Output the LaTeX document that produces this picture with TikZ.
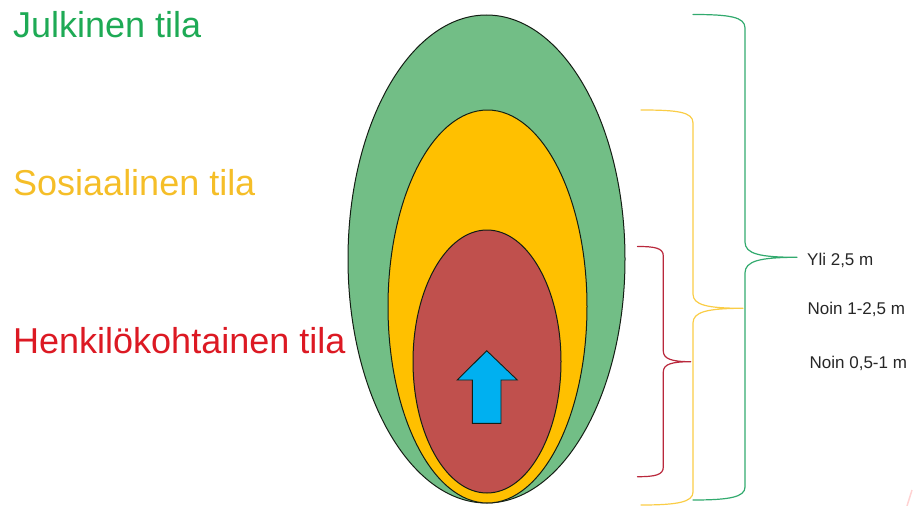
\documentclass[tikz,border=0pt]{standalone}
\usepackage{fontspec}
\setmainfont{Liberation Sans}
\usetikzlibrary{shapes.geometric}
\definecolor{gfill}{RGB}{114,190,134}
\definecolor{yfill}{RGB}{255,192,0}
\definecolor{rfill}{RGB}{192,80,77}
\definecolor{bfill}{RGB}{0,176,240}
\definecolor{gtext}{RGB}{30,170,85}
\definecolor{ytext}{RGB}{245,190,40}
\definecolor{rtext}{RGB}{220,25,35}
\definecolor{gbrace}{RGB}{50,170,110}
\definecolor{ybrace}{RGB}{250,205,70}
\definecolor{rbrace}{RGB}{185,40,60}
\definecolor{outl}{RGB}{20,30,20}
\tikzset{
  zone/.style={ellipse, draw=outl, line width=1pt, inner sep=0pt},
  biglabel/.style={anchor=base west, inner sep=0pt, font=\fontsize{36}{40}\selectfont},
  smalllabel/.style={anchor=base west, inner sep=0pt, text=black!85, font=\fontsize{17}{20}\selectfont},
  bracepath/.style={line width=1.2pt, line cap=round, line join=round}
}
\begin{document}
\begin{tikzpicture}[x=1pt,y=-1pt]
\useasboundingbox (0,0) rectangle (914,506);
% zones
\node[zone, fill=gfill, minimum width=277pt, minimum height=488pt] (pub) at (486.5,259) {};
\node[zone, fill=yfill, minimum width=199pt, minimum height=393pt] (soc) at (487.5,306.5) {};
\node[zone, fill=rfill, minimum width=148pt, minimum height=263pt] (per) at (487,361.5) {};
% arrow
\draw[fill=bfill, draw=outl, line width=0.9pt, line join=miter]
  (486.7,350.7) -- (517.3,380) -- (501,380) -- (501,423.3) -- (472.3,423.3) -- (472.3,380) -- (457.3,380) -- cycle;
% braces
\draw[bracepath, gbrace]
  (693,14.5) .. controls (730,14.5) and (745,17) .. (745,28)
  -- (745,242) .. controls (745,254) and (760,257.3) .. (797,257.3)
  .. controls (760,257.3) and (745,261) .. (745,273)
  -- (745,487) .. controls (745,497) and (730,500) .. (693,500);
\draw[bracepath, ybrace]
  (641,110) .. controls (678,110) and (693,112) .. (693,123)
  -- (693,294) .. controls (693,305) and (707,308.3) .. (743,308.3)
  .. controls (707,308.3) and (693,312) .. (693,323)
  -- (693,492) .. controls (693,502) and (678,505) .. (641,505);
\draw[bracepath, rbrace]
  (637.5,246.5) .. controls (655,246.5) and (663.3,248) .. (663.3,256)
  -- (663.3,351) .. controls (663.3,359) and (672,361.7) .. (690.7,361.7)
  .. controls (672,361.7) and (663.3,364) .. (663.3,372)
  -- (663.3,467) .. controls (663.3,475) and (655,476.7) .. (637.5,476.7);
% labels
\node[biglabel, text=gtext] (lpub) at (13,37.3) {Julkinen tila};
\node[biglabel, text=ytext] (lsoc) at (13,195) {Sosiaalinen tila};
\node[biglabel, text=rtext] (lper) at (13,353.3) {Henkilökohtainen tila};
\node[smalllabel] (dpub) at (807,265) {Yli 2,5 m};
\node[smalllabel] (dsoc) at (807.5,314) {Noin 1-2,5 m};
\node[smalllabel] (dper) at (809.5,368.3) {Noin 0,5-1 m};
% corner artifact
\draw[line width=1.5pt, pink!70!white] (907,506) -- (912,490);
\end{tikzpicture}
\end{document}
